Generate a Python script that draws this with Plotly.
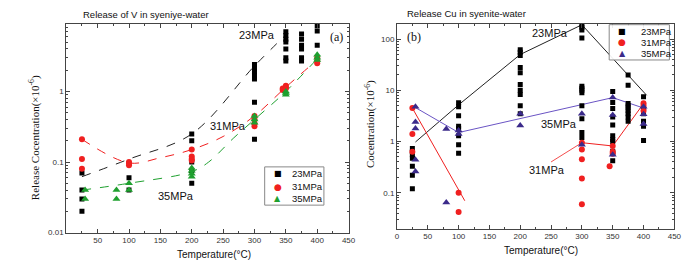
import plotly.graph_objects as go

# ---------------- Data: V release (left) ----------------
v23_x = [25, 25, 25, 25, 100, 100, 200, 200, 200, 200, 200,
         300, 300, 300, 300, 300, 300, 300,
         350, 350, 350, 350, 350, 350, 350,
         375, 375, 375, 375, 375, 375, 400, 400, 400]
v23_y = [0.07, 0.04, 0.03, 0.02, 0.06, 0.04, 0.25, 0.2, 0.1, 0.075, 0.05,
         2.4, 2.1, 1.9, 1.7, 1.5, 0.7, 0.21,
         7.0, 6.2, 5.5, 5.0, 4.0, 3.0, 2.7,
         6.5, 5.5, 4.5, 4.0, 3.0, 2.7, 8.5, 7.2, 4.5]
v31_x = [25, 25, 25, 100, 100, 100, 200, 200, 200, 200,
         300, 300, 300, 300, 345, 345, 350, 350, 350, 400, 400, 400]
v31_y = [0.21, 0.11, 0.08, 0.1, 0.095, 0.09, 0.15, 0.12, 0.11, 0.105,
         0.45, 0.4, 0.35, 0.32, 1.05, 1.1, 1.15, 1.2, 1.1, 3.0, 2.7, 2.5]
v35_x = [30, 30, 80, 80, 100, 100, 200, 200, 200, 200,
         300, 300, 300, 350, 350, 350, 400, 400, 400]
v35_y = [0.04, 0.03, 0.04, 0.03, 0.05, 0.04, 0.082, 0.075, 0.068, 0.062,
         0.45, 0.4, 0.36, 1.0, 0.95, 0.9, 3.3, 3.0, 2.8]

v23_fit_x = [25, 100, 200, 300, 352]
v23_fit_y = [0.062, 0.11, 0.25, 2.3, 6.6]
v31_fit_x = [25, 100, 150, 200, 250, 300, 350, 400]
v31_fit_y = [0.21, 0.097, 0.115, 0.15, 0.23, 0.45, 1.15, 2.8]
v35_fit_x = [25, 100, 200, 227, 267, 300, 350, 400]
v35_fit_y = [0.04, 0.05, 0.073, 0.1, 0.22, 0.4, 1.0, 2.9]

# ---------------- Data: Cu release (right) ----------------
cu23_x = [25] * 7 + [100] * 8 + [200] * 10 + [300] * 12 + [350] * 11 + [375] * 9 + [400] * 6
cu23_y = [0.73, 0.63, 0.55, 0.47, 0.33, 0.22, 0.12,
          5.7, 4.8, 3.2, 2.0, 1.8, 1.3, 0.87, 0.59,
          62, 55, 48, 28, 22, 13, 10, 8.3, 5.0, 3.5,
          190, 170, 150, 105, 12, 11, 10, 9, 5.0, 2.8, 1.5, 1.2,
          9.5, 5.8, 4.4, 3.0, 2.1, 1.3, 1.1, 1.0, 0.65, 0.6, 0.42,
          20, 12.5, 5.5, 5.0, 4.5, 4.0, 3.5, 3.0, 2.5,
          7.5, 4.5, 3.5, 2.5, 2.0, 1.05]
cu31_x = [25, 25, 25, 100, 100, 300, 300, 300, 300, 300, 345, 350, 350, 350, 400, 400, 400]
cu31_y = [4.5, 1.4, 0.63, 0.1, 0.042, 0.95, 0.7, 0.45, 0.19, 0.06, 0.33, 0.82, 0.63, 0.58, 5.6, 5.0, 4.0]
cu35_x = [30, 30, 30, 30, 30, 80, 80, 100, 100, 200, 200, 300, 300, 350, 350, 350, 400, 400, 400]
cu35_y = [4.8, 2.4, 1.8, 0.44, 0.26, 1.75, 0.065, 1.65, 1.4, 3.5, 2.05, 3.5, 0.87, 7.2, 3.3, 0.55, 4.8, 3.4, 2.2]

cu23_line_x = [30, 100, 200, 300, 405]
cu23_line_y = [0.98, 5.2, 50, 190, 8]
cu31_line_x = [25, 110, None, 300, 350, 400]
cu31_line_y = [4.5, 0.07, None, 0.95, 0.82, 5.5]
cu31_label_x = [250, 300]
cu31_label_y = [0.4, 0.95]
cu35_line_x = [30, 100, 350, 405]
cu35_line_y = [4.6, 1.5, 7.2, 4.3]

x_ticks_left = [50, 100, 150, 200, 250, 300, 350, 400, 450]
x_ticks_right = [0, 50, 100, 150, 200, 250, 300, 350, 400, 450]
series_names = ["23MPa", "31MPa", "35MPa"]

BLACK = "#000000"
RED = "#f02020"
GREEN = "#1fa02f"
PURPLE_M = "#3b2a8a"
PURPLE_L = "#6a54c4"

W, H = 700, 260
def px(x):
    return x / W
def py(y):
    return 1 - y / H

def minor_vals(lo, hi):
    vals = []
    for e in range(lo, hi):
        for m in range(2, 10):
            vals.append(m * 10 ** e)
    return vals

fig = go.Figure()

sq = dict(symbol="square", size=5)
ci = dict(symbol="circle", size=6)
tr = dict(symbol="triangle-up", size=7)

# left fits
fig.add_trace(go.Scatter(x=v23_fit_x, y=v23_fit_y, mode="lines", line=dict(color="#222", dash="dash", width=1, shape="spline"),
                         xaxis="x", yaxis="y"))
fig.add_trace(go.Scatter(x=v31_fit_x, y=v31_fit_y, mode="lines", line=dict(color=RED, dash="dash", width=1, shape="spline"),
                         xaxis="x", yaxis="y"))
fig.add_trace(go.Scatter(x=v35_fit_x, y=v35_fit_y, mode="lines", line=dict(color=GREEN, dash="dash", width=1, shape="spline"),
                         xaxis="x", yaxis="y"))
# left points
fig.add_trace(go.Scatter(x=v23_x, y=v23_y, mode="markers", name=series_names[0], marker=dict(color=BLACK, **sq),
                         xaxis="x", yaxis="y"))
fig.add_trace(go.Scatter(x=v31_x, y=v31_y, mode="markers", name=series_names[1], marker=dict(color=RED, **ci),
                         xaxis="x", yaxis="y"))
fig.add_trace(go.Scatter(x=v35_x, y=v35_y, mode="markers", name=series_names[2], marker=dict(color=GREEN, **tr),
                         xaxis="x", yaxis="y"))

# right lines
fig.add_trace(go.Scatter(x=cu23_line_x, y=cu23_line_y, mode="lines", line=dict(color="#222", width=1),
                         xaxis="x2", yaxis="y2"))
fig.add_trace(go.Scatter(x=cu31_line_x, y=cu31_line_y, mode="lines", line=dict(color=RED, width=1),
                         xaxis="x2", yaxis="y2"))
fig.add_trace(go.Scatter(x=cu31_label_x, y=cu31_label_y, mode="lines", line=dict(color=RED, width=0.8),
                         xaxis="x2", yaxis="y2"))
fig.add_trace(go.Scatter(x=cu35_line_x, y=cu35_line_y, mode="lines", line=dict(color=PURPLE_L, width=1),
                         xaxis="x2", yaxis="y2"))
# right points
fig.add_trace(go.Scatter(x=cu23_x, y=cu23_y, mode="markers", name=series_names[0], marker=dict(color=BLACK, **sq),
                         xaxis="x2", yaxis="y2"))
fig.add_trace(go.Scatter(x=cu31_x, y=cu31_y, mode="markers", name=series_names[1], marker=dict(color=RED, **ci),
                         xaxis="x2", yaxis="y2"))
fig.add_trace(go.Scatter(x=cu35_x, y=cu35_y, mode="markers", name=series_names[2], marker=dict(color=PURPLE_M, **tr),
                         xaxis="x2", yaxis="y2"))

SANS = "Liberation Sans, Arial, sans-serif"
SERIF = "Liberation Serif, Times New Roman, serif"
tickfont = dict(family=SANS, size=8, color="#333")

common_x = dict(range=[0, 450], showgrid=False, zeroline=False, showline=True, linecolor="#444", linewidth=1,
                mirror="allticks", ticks="inside", ticklen=4, tickcolor="#444", tickfont=tickfont,
                minor=dict(ticks="inside", ticklen=2, dtick=25, tickcolor="#444"))
common_y = dict(type="log", showgrid=False, zeroline=False, showline=True, linecolor="#444", linewidth=1,
                mirror="allticks", ticks="inside", ticklen=4, tickcolor="#444", tickfont=tickfont)

fig.update_layout(
    width=W, height=H, margin=dict(l=0, r=0, t=0, b=0),
    paper_bgcolor="white", plot_bgcolor="white", showlegend=False,
    xaxis=dict(domain=[px(57), px(343)], anchor="y", tickvals=x_ticks_left, **common_x),
    yaxis=dict(domain=[py(229), py(16)], anchor="x", range=[-2, 0.96], tickvals=[0.01, 0.1, 1],
               ticktext=["0.01", "0.1", "1"],
               minor=dict(ticks="inside", ticklen=2, tickcolor="#444", tickmode="array", tickvals=minor_vals(-2, 1)),
               **common_y),
    xaxis2=dict(domain=[px(392), px(673)], anchor="y2", tickvals=x_ticks_right, **common_x),
    yaxis2=dict(domain=[py(225), py(16)], anchor="x2", range=[-1.7, 2.3], tickvals=[0.1, 1, 10, 100],
                ticktext=["0.1", "1", "10", "100"],
                minor=dict(ticks="inside", ticklen=2, tickcolor="#444", tickmode="array", tickvals=minor_vals(-2, 3)),
                **common_y),
)

def ann(text, x, y, size=11, family=SANS, xanchor="center", angle=0, color="#111"):
    fig.add_annotation(text=text, x=px(x), y=py(y), xref="paper", yref="paper", showarrow=False,
                       xanchor=xanchor, yanchor="middle", textangle=angle,
                       font=dict(family=family, size=size, color=color))

ann("Release of V in syeniye-water", 72, 7, size=9.5, xanchor="left")
ann("Release Cu in syenite-water", 400, 6, size=9.5, xanchor="left")
ann("Release Cocentration(×10<sup>-6</sup>)", 25, 132, size=11, family=SERIF, angle=-90)
ann("Cocentration(×10<sup>-6</sup>)", 365, 118, size=11, family=SERIF, angle=-90)
ann("Temperature(°C)", 207, 251, size=10)
ann("Temperature(°C)", 538, 247, size=10)
ann("23MPa", 250, 28, size=11)
ann("31MPa", 221, 120, size=11)
ann("35MPa", 168, 192, size=11)
ann("(a)", 331, 30, size=12, family=SERIF)
ann("23MPa", 547, 25, size=11)
ann("35MPa", 556, 118, size=11)
ann("31MPa", 544, 165, size=11)
ann("(b)", 409, 30, size=12, family=SERIF)

# compact legends (box + symbol glyphs + labels)
def legend_box(x0, y0, x1, y1, sym_x, txt_x, ys, colors):
    fig.add_shape(type="rect", xref="paper", yref="paper", x0=px(x0), x1=px(x1), y0=py(y1), y1=py(y0),
                  line=dict(color="#888", width=1), fillcolor="rgba(255,255,255,0.9)")
    glyphs = [("■", 8), ("●", 9), ("▲", 8)]
    for (g, s), yy, c, name in zip(glyphs, ys, colors, series_names):
        ann(g, sym_x, yy, size=s, family="DejaVu Sans", color=c)
        ann(name, txt_x, yy, size=9.5, xanchor="left", color="#111")

legend_box(258, 162, 318, 201, 271, 284, [169, 182, 194], [BLACK, RED, GREEN])
legend_box(607, 17, 668, 53, 620, 637, [24, 35, 46], [BLACK, RED, PURPLE_M])

fig.write_html("out.html")
